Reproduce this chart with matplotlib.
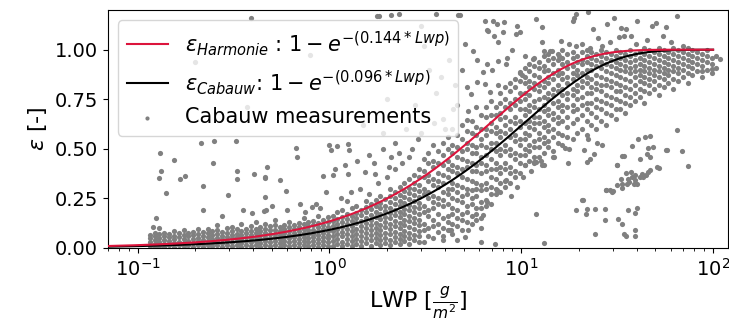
import numpy as np
import matplotlib
matplotlib.use('Agg')
import matplotlib.pyplot as plt

# fit coefficients from the legend: eps = 1 - exp(-k * LWP)
k_harmonie = 0.144
k_cabauw = 0.096

cols_low = [
    (0.116, [0.01, 0.03, 0.05, 0.065]),
    (0.123, [0.005, 0.02, 0.04, 0.06, 0.075]),
    (0.130, [0.012, 0.03, 0.052, 0.07, 0.1]),
    (0.138, [0.006, 0.022, 0.042, 0.06, 0.078]),
    (0.146, [0.015, 0.035, 0.053, 0.071]),
    (0.155, [0.004, 0.025, 0.045, 0.063, 0.085]),
    (0.164, [0.014, 0.032, 0.055, 0.074]),
    (0.174, [0.008, 0.027, 0.046, 0.066, 0.09]),
    (0.184, [0.017, 0.036, 0.058, 0.078]),
    (0.195, [0.006, 0.024, 0.044, 0.064, 0.083]),
    (0.206, [0.013, 0.034, 0.052, 0.072, 0.095]),
    (0.219, [0.004, 0.022, 0.041, 0.06, 0.081]),
    (0.232, [0.016, 0.036, 0.056, 0.074, 0.098]),
    (0.245, [0.008, 0.027, 0.047, 0.067, 0.086]),
    (0.260, [0.014, 0.033, 0.052, 0.072, 0.093, 0.115]),
    (0.275, [0.005, 0.024, 0.043, 0.062, 0.082]),
    (0.292, [0.017, 0.037, 0.057, 0.077, 0.1]),
    (0.309, [0.009, 0.028, 0.048, 0.068, 0.088, 0.108]),
    (0.328, [0.013, 0.033, 0.053, 0.073, 0.094]),
    (0.347, [0.006, 0.025, 0.044, 0.064, 0.084, 0.12]),
    (0.368, [0.016, 0.036, 0.056, 0.076, 0.098]),
    (0.389, [0.008, 0.028, 0.048, 0.068, 0.088, 0.11]),
    (0.412, [0.014, 0.034, 0.054, 0.074, 0.094, 0.13]),
    (0.437, [0.005, 0.025, 0.045, 0.065, 0.085, 0.106]),
    (0.463, [0.017, 0.037, 0.057, 0.077, 0.097, 0.12]),
    (0.490, [0.009, 0.029, 0.049, 0.069, 0.089, 0.11]),
    (0.519, [0.013, 0.033, 0.053, 0.073, 0.093, 0.115, 0.14]),
    (0.550, [0.006, 0.026, 0.046, 0.066, 0.086, 0.106]),
    (0.583, [0.016, 0.036, 0.056, 0.076, 0.096, 0.118]),
    (0.617, [0.008, 0.028, 0.048, 0.068, 0.088, 0.108, 0.13]),
    (0.654, [0.014, 0.034, 0.054, 0.074, 0.094, 0.116]),
    (0.693, [0.005, 0.025, 0.045, 0.065, 0.085, 0.105, 0.128]),
    (0.734, [0.017, 0.037, 0.057, 0.077, 0.097, 0.12, 0.15]),
    (0.777, [0.009, 0.029, 0.049, 0.069, 0.089, 0.11, 0.13]),
    (0.823, [0.013, 0.033, 0.053, 0.073, 0.093, 0.115, 0.138]),
    (0.872, [0.006, 0.026, 0.046, 0.066, 0.086, 0.106, 0.128, 0.16]),
    (0.924, [0.016, 0.036, 0.056, 0.076, 0.096, 0.118, 0.14]),
    (0.979, [0.008, 0.028, 0.048, 0.068, 0.088, 0.108, 0.13, 0.155]),
    (1.04, [0.01, 0.035, 0.06, 0.085, 0.11, 0.135, 0.16]),
    (1.10, [0.02, 0.045, 0.07, 0.095, 0.12, 0.145, 0.18]),
    (1.16, [0.008, 0.032, 0.058, 0.082, 0.108, 0.132, 0.158, 0.19]),
    (1.23, [0.02, 0.045, 0.07, 0.095, 0.12, 0.148, 0.172]),
    (1.31, [0.01, 0.035, 0.06, 0.085, 0.11, 0.136, 0.16, 0.2]),
    (1.38, [0.022, 0.047, 0.072, 0.098, 0.124, 0.15, 0.178, 0.21]),
    (1.46, [0.012, 0.036, 0.062, 0.088, 0.112, 0.138, 0.165, 0.19]),
    (1.55, [0.025, 0.05, 0.075, 0.1, 0.126, 0.152, 0.18, 0.205, 0.235]),
    (1.64, [0.01, 0.038, 0.064, 0.09, 0.115, 0.142, 0.168, 0.195, 0.22]),
    (1.74, [0.024, 0.05, 0.076, 0.102, 0.128, 0.155, 0.182, 0.21, 0.24]),
    (1.84, [0.014, 0.04, 0.066, 0.092, 0.118, 0.145, 0.172, 0.2, 0.228, 0.26]),
    (1.95, [0.026, 0.052, 0.078, 0.105, 0.132, 0.158, 0.186, 0.214, 0.245]),
    (2.07, [0.016, 0.042, 0.07, 0.096, 0.122, 0.15, 0.176, 0.204, 0.232, 0.262, 0.3]),
    (2.19, [0.03, 0.056, 0.082, 0.11, 0.136, 0.164, 0.19, 0.22, 0.25, 0.28]),
    (2.32, [0.018, 0.046, 0.072, 0.1, 0.126, 0.154, 0.182, 0.21, 0.238, 0.268, 0.31]),
    (2.46, [0.034, 0.06, 0.088, 0.115, 0.142, 0.17, 0.198, 0.226, 0.255, 0.285, 0.33]),
    (2.60, [0.022, 0.05, 0.078, 0.106, 0.134, 0.162, 0.19, 0.218, 0.246, 0.276, 0.305, 0.35]),
    (2.76, [0.04, 0.068, 0.096, 0.124, 0.152, 0.18, 0.208, 0.236, 0.265, 0.295, 0.33, 0.37]),
    (2.92, [0.03, 0.058, 0.086, 0.114, 0.142, 0.17, 0.2, 0.228, 0.258, 0.288, 0.32, 0.36, 0.4]),
]

cols_mid = [
    (3.10, [0.03, 0.09, 0.12, 0.18, 0.21, 0.27, 0.3, 0.36, 0.39, 0.45]),
    (3.28, [0.06, 0.1, 0.16, 0.19, 0.25, 0.28, 0.34, 0.37, 0.43, 0.48]),
    (3.47, [0.05, 0.11, 0.14, 0.2, 0.23, 0.26, 0.32, 0.35, 0.41, 0.44, 0.52]),
    (3.68, [0.08, 0.12, 0.17, 0.22, 0.25, 0.31, 0.34, 0.38, 0.43, 0.49]),
    (3.90, [0.06, 0.1, 0.15, 0.21, 0.24, 0.28, 0.33, 0.37, 0.42, 0.47, 0.53]),
    (4.13, [0.09, 0.13, 0.16, 0.22, 0.27, 0.3, 0.36, 0.4, 0.44, 0.5, 0.56]),
    (4.37, [0.07, 0.12, 0.17, 0.2, 0.25, 0.3, 0.33, 0.39, 0.42, 0.48, 0.52, 0.6]),
    (4.63, [0.11, 0.15, 0.19, 0.24, 0.28, 0.32, 0.38, 0.41, 0.46, 0.51, 0.57]),
    (4.91, [0.09, 0.14, 0.17, 0.23, 0.26, 0.31, 0.36, 0.4, 0.45, 0.49, 0.55, 0.62]),
    (5.20, [0.13, 0.18, 0.21, 0.27, 0.3, 0.35, 0.41, 0.44, 0.5, 0.53, 0.59]),
    (5.51, [0.12, 0.16, 0.22, 0.25, 0.29, 0.34, 0.39, 0.43, 0.48, 0.52, 0.58, 0.64]),
    (5.83, [0.17, 0.2, 0.26, 0.3, 0.33, 0.39, 0.42, 0.48, 0.51, 0.57, 0.61]),
    (6.18, [0.15, 0.2, 0.23, 0.29, 0.32, 0.38, 0.43, 0.46, 0.52, 0.55, 0.6, 0.67]),
    (6.55, [0.21, 0.24, 0.3, 0.33, 0.39, 0.42, 0.47, 0.51, 0.57, 0.6, 0.66, 0.71]),
    (6.93, [0.22, 0.27, 0.31, 0.36, 0.4, 0.45, 0.5, 0.53, 0.59, 0.63, 0.67, 0.74]),
    (7.35, [0.27, 0.3, 0.35, 0.4, 0.43, 0.49, 0.53, 0.58, 0.61, 0.67, 0.71]),
    (7.78, [0.28, 0.33, 0.38, 0.41, 0.47, 0.5, 0.56, 0.59, 0.65, 0.68, 0.73, 0.78]),
    (8.24, [0.31, 0.34, 0.4, 0.43, 0.49, 0.52, 0.58, 0.62, 0.66, 0.71, 0.75, 0.81]),
    (8.73, [0.33, 0.38, 0.41, 0.47, 0.5, 0.56, 0.6, 0.64, 0.7, 0.73, 0.79, 0.83]),
    (9.25, [0.36, 0.39, 0.45, 0.48, 0.54, 0.57, 0.63, 0.66, 0.72, 0.75, 0.81, 0.85]),
    (9.80, [0.38, 0.43, 0.47, 0.52, 0.55, 0.61, 0.64, 0.7, 0.74, 0.78, 0.84, 0.88]),
]

cols_high = [
    (10.4, [0.42, 0.47, 0.5, 0.55, 0.58, 0.63, 0.67, 0.7, 0.75, 0.78, 0.83, 0.86, 0.91]),
    (11.0, [0.44, 0.49, 0.52, 0.57, 0.61, 0.64, 0.69, 0.72, 0.77, 0.81, 0.84, 0.89, 0.93]),
    (11.6, [0.43, 0.46, 0.51, 0.54, 0.6, 0.63, 0.66, 0.71, 0.74, 0.8, 0.83, 0.87, 0.92, 0.96]),
    (12.3, [0.46, 0.51, 0.55, 0.58, 0.63, 0.66, 0.7, 0.75, 0.79, 0.82, 0.86, 0.91, 0.94]),
    (13.1, [0.48, 0.53, 0.56, 0.61, 0.64, 0.69, 0.72, 0.76, 0.81, 0.84, 0.89, 0.92, 0.97]),
    (13.8, [0.51, 0.54, 0.59, 0.62, 0.67, 0.7, 0.75, 0.78, 0.83, 0.86, 0.9, 0.95, 0.98]),
    (14.7, [0.49, 0.56, 0.6, 0.65, 0.68, 0.73, 0.77, 0.8, 0.85, 0.88, 0.93, 0.96]),
    (15.5, [0.53, 0.58, 0.63, 0.66, 0.71, 0.74, 0.79, 0.82, 0.87, 0.9, 0.95, 0.98]),
    (16.4, [0.52, 0.57, 0.64, 0.69, 0.72, 0.77, 0.8, 0.85, 0.88, 0.93, 0.96, 1.0]),
    (17.4, [0.56, 0.61, 0.66, 0.71, 0.75, 0.78, 0.83, 0.86, 0.91, 0.94, 0.98]),
    (18.5, [0.55, 0.63, 0.69, 0.72, 0.77, 0.8, 0.85, 0.88, 0.92, 0.96, 0.99]),
    (19.6, [0.58, 0.65, 0.7, 0.75, 0.79, 0.82, 0.87, 0.9, 0.94, 0.97]),
    (20.7, [0.6, 0.67, 0.72, 0.76, 0.81, 0.84, 0.88, 0.93, 0.95, 0.99]),
    (21.9, [0.57, 0.64, 0.7, 0.73, 0.78, 0.83, 0.86, 0.9, 0.94, 0.97, 1.0]),
    (23.2, [0.62, 0.68, 0.73, 0.78, 0.81, 0.85, 0.9, 0.93, 0.96, 0.99]),
    (24.6, [0.6, 0.66, 0.71, 0.75, 0.8, 0.83, 0.87, 0.92, 0.95, 0.98]),
    (26.1, [0.64, 0.7, 0.74, 0.79, 0.82, 0.86, 0.91, 0.94, 0.97, 1.0]),
    (27.6, [0.62, 0.68, 0.73, 0.77, 0.82, 0.85, 0.89, 0.93, 0.96, 0.99]),
    (29.3, [0.67, 0.72, 0.76, 0.81, 0.84, 0.88, 0.92, 0.95, 0.98]),
    (31.0, [0.65, 0.7, 0.75, 0.79, 0.83, 0.87, 0.91, 0.94, 0.97, 1.0]),
    (32.8, [0.7, 0.74, 0.79, 0.82, 0.86, 0.9, 0.93, 0.96, 0.99]),
    (34.8, [0.68, 0.73, 0.77, 0.81, 0.85, 0.89, 0.92, 0.95, 0.98]),
    (36.9, [0.72, 0.76, 0.8, 0.84, 0.88, 0.91, 0.94, 0.97, 1.0]),
    (39.0, [0.74, 0.78, 0.82, 0.86, 0.89, 0.92, 0.95, 0.98]),
    (41.4, [0.76, 0.8, 0.84, 0.87, 0.9, 0.93, 0.96, 0.99]),
    (43.8, [0.73, 0.79, 0.83, 0.86, 0.89, 0.92, 0.95, 0.98, 1.01]),
    (46.4, [0.78, 0.82, 0.85, 0.88, 0.91, 0.94, 0.97, 1.0]),
    (49.2, [0.8, 0.84, 0.87, 0.9, 0.93, 0.96, 0.99]),
    (52.1, [0.77, 0.82, 0.86, 0.89, 0.92, 0.95, 0.98, 1.01]),
    (55.2, [0.81, 0.85, 0.88, 0.91, 0.94, 0.97, 1.0]),
    (58.5, [0.83, 0.87, 0.9, 0.93, 0.96, 0.99]),
    (61.9, [0.8, 0.85, 0.89, 0.92, 0.95, 0.98, 1.01]),
    (65.6, [0.84, 0.88, 0.91, 0.94, 0.97, 1.0]),
    (69.5, [0.86, 0.9, 0.93, 0.96, 0.99]),
    (73.6, [0.83, 0.88, 0.92, 0.95, 0.98, 1.01]),
    (78.0, [0.87, 0.91, 0.94, 0.97, 1.0]),
    (82.6, [0.89, 0.93, 0.96, 0.99]),
    (87.5, [0.86, 0.92, 0.95, 0.98]),
    (92.7, [0.9, 0.94, 0.97, 1.0]),
    (98.2, [0.88, 0.93, 0.96]),
    (104.0, [0.91, 0.97]),
]

# scattered single measurements away from the main cloud (LWP, eps)
pts_left = [
    (0.131, 0.48), (0.154, 0.446), (0.133, 0.39), (0.129, 0.355), (0.141, 0.275),
    (0.167, 0.35), (0.177, 0.363), (0.213, 0.528), (0.25, 0.541), (0.325, 0.541),
    (0.246, 0.427), (0.22, 0.311), (0.295, 0.268), (0.33, 0.387), (0.33, 0.35),
    (0.402, 0.372), (0.462, 0.358), (0.46, 0.255), (0.465, 0.19), (0.125, 0.152),
    (0.121, 0.107), (0.218, 0.19), (0.274, 0.16), (0.355, 0.19), (0.397, 0.178),
    (0.457, 0.186), (0.39, 1.16), (0.2, 0.94), (0.79, 0.973), (0.37, 0.712),
    (0.67, 0.504), (0.675, 0.459), (1.0, 0.52), (1.02, 0.496), (1.1, 0.516),
    (1.25, 0.526), (1.26, 0.492), (0.475, 0.407), (0.46, 0.353), (0.553, 0.342),
    (0.595, 0.286), (0.70, 0.224), (0.5, 0.214), (0.93, 0.363), (1.04, 0.367),
    (1.07, 0.396), (1.25, 0.375), (1.53, 0.382), (1.72, 0.373), (0.96, 0.283),
    (0.89, 0.203), (0.81, 0.208), (1.24, 0.238), (0.6, 0.19), (0.75, 0.18),
    (0.85, 0.22), (1.15, 0.25), (1.3, 0.28), (1.45, 0.3), (1.6, 0.27),
    (1.8, 0.33), (2.0, 0.36), (2.2, 0.4), (2.4, 0.43), (2.6, 0.46),
    (1.4, 0.44), (1.6, 0.47), (1.9, 0.5), (2.1, 0.46), (1.2, 0.42),
    (2.7, 0.5), (2.9, 0.55), (1.7, 0.43), (2.3, 0.48), (2.05, 0.41),
    (2.5, 0.6), (2.8, 0.72), (3.0, 0.58), (3.3, 0.9), (3.6, 0.78),
    (3.9, 0.65), (4.2, 0.95), (4.4, 0.7), (2.6, 0.85), (3.1, 1.02),
    (4.0, 0.6), (3.5, 0.63), (2.2, 0.53), (1.9, 0.58), (2.0, 0.75),
    (1.5, 0.62), (1.82, 1.17), (2.3, 1.18), (3.6, 1.18), (3.0, 1.12),
    (4.7, 1.176), (2.1, 1.176), (1.78, 1.17),
]

pts_mid = [
    (4.8, 1.176), (6.5, 1.146), (7.5, 1.13), (8.1, 1.14), (6.7, 1.095),
    (7.2, 1.07), (7.6, 1.037), (9.4, 1.08), (9.8, 1.09), (5.1, 1.03),
    (5.6, 0.995), (5.9, 0.948), (6.6, 0.928), (7.6, 0.945), (8.3, 0.928),
    (8.4, 0.96), (10.4, 0.97), (11.5, 0.953), (12.9, 1.04), (14.5, 0.995),
    (6.3, 0.887), (5.9, 0.836), (6.5, 0.828), (6.9, 0.786), (7.6, 0.82),
    (5.2, 0.81), (5.5, 0.777), (5.3, 0.693), (5.8, 0.71), (5.2, 0.643),
    (9.8, 0.886), (10.1, 0.87), (6.6, 1.1), (7.1, 1.146), (8.0, 1.088),
    (9.5, 1.12), (11.9, 1.154), (12.9, 1.112), (13.2, 0.995), (4.6, 0.72),
    (4.9, 0.9), (8.9, 1.0), (4.5, 0.82), (3.8, 0.86), (7.0, 0.9),
    (11.9, 0.171), (13.1, 0.024), (7.3, 0.019), (6.2, 0.032), (10.5, 0.417),
    (11.9, 0.434), (13.1, 0.417), (14.9, 0.459), (8.3, 0.342), (7.5, 0.291),
    (6.6, 0.233), (6.3, 0.166), (5.8, 0.141), (4.3, 0.09), (5.3, 0.09),
    (3.9, 0.04), (4.65, 0.04), (5.1, 0.057), (6.2, 0.099), (4.2, 0.09),
    (8.8, 0.26), (9.5, 0.31), (10.2, 0.36), (11.2, 0.39), (12.6, 0.44),
]

pts_right = [
    (18.9, 1.162), (22.3, 1.19), (27.9, 1.13), (30.4, 1.16), (33.0, 1.11),
    (35.0, 1.104), (37.2, 1.07), (40.2, 1.146), (48.3, 1.12), (50.4, 1.137),
    (57.0, 1.113), (64.5, 1.17), (54.7, 1.07), (39.5, 1.03), (32.4, 1.064),
    (26.3, 1.02), (19.2, 1.02), (20.8, 1.03), (17.8, 1.03), (22.9, 1.01),
    (34.3, 1.07), (14.1, 0.995), (15.8, 0.97), (109.0, 0.953), (99.0, 0.903),
    (88.0, 0.894), (16.1, 1.045), (18.5, 1.146), (19.2, 1.18), (23.6, 1.104),
    (45.0, 1.05), (60.0, 1.04), (70.0, 1.02), (25.0, 1.06), (29.0, 1.04),
    (14.6, 0.459), (17.0, 0.504), (17.8, 0.5), (17.6, 0.43), (21.2, 0.492),
    (22.3, 0.551), (24.9, 0.529), (26.3, 0.518), (22.9, 0.451), (23.9, 0.472),
    (22.0, 0.434), (31.4, 0.42), (34.3, 0.462), (37.8, 0.514), (40.7, 0.551),
    (44.2, 0.56), (46.8, 0.565), (46.0, 0.506), (48.7, 0.509), (46.8, 0.459),
    (45.4, 0.476), (41.6, 0.451), (52.0, 0.405), (57.6, 0.492), (68.9, 0.489),
    (74.0, 0.414), (65.0, 0.596), (51.0, 0.409), (56.6, 0.492), (12.9, 0.417),
    (11.7, 0.434), (31.6, 0.417), (33.5, 0.462), (27.7, 0.291), (29.9, 0.286),
    (35.0, 0.378), (37.2, 0.383), (37.8, 0.358), (39.4, 0.342), (41.6, 0.358),
    (43.3, 0.358), (46.0, 0.383), (46.9, 0.395), (44.9, 0.367), (38.6, 0.325),
    (40.2, 0.325), (36.5, 0.333), (35.7, 0.325), (33.0, 0.35), (33.4, 0.325),
    (31.6, 0.317), (33.4, 0.305), (29.0, 0.291), (29.6, 0.283), (27.5, 0.291),
    (39.4, 0.367), (42.5, 0.372), (36.0, 0.35),
    (21.0, 0.241), (19.2, 0.191), (22.0, 0.196), (21.8, 0.171), (24.2, 0.196),
    (27.4, 0.196), (27.4, 0.141), (31.8, 0.146), (33.6, 0.119), (35.9, 0.191),
    (39.9, 0.201), (39.4, 0.178), (24.2, 0.069), (34.3, 0.069), (35.2, 0.06),
    (39.1, 0.06), (39.4, 0.09), (20.8, 0.241),
]

lwp = [x for x, ys in cols_low + cols_mid + cols_high for _ in ys]
eps = [y for _, ys in cols_low + cols_mid + cols_high for y in ys]
for x, y in pts_left + pts_mid + pts_right:
    lwp.append(x)
    eps.append(y)

xfit = np.logspace(np.log10(0.07), 2, 400)

fig = plt.figure(figsize=(7.29, 3.34), dpi=100)
ax = fig.add_axes([0.148, 0.2575, 0.851, 0.7125])

sc = ax.scatter(lwp, eps, s=14, color='grey', linewidths=0, zorder=1,
                label='Cabauw measurements')
l1, = ax.plot(xfit, 1 - np.exp(-k_harmonie * xfit), color='crimson', lw=1.5, zorder=3,
              label=r'$\epsilon_{Harmonie}$ : $1-e^{-(0.144*Lwp)}$')
l2, = ax.plot(xfit, 1 - np.exp(-k_cabauw * xfit), color='black', lw=1.5, zorder=2,
              label=r'$\epsilon_{Cabauw}$: $1-e^{-(0.096*Lwp)}$')

ax.set_xscale('log')
ax.set_xlim(0.07, 120)
ax.set_ylim(0, 1.2)
ax.set_yticks([0, 0.25, 0.5, 0.75, 1.0])
ax.set_yticklabels(['0.00', '0.25', '0.50', '0.75', '1.00'])
ax.tick_params(labelsize=14)
ax.set_xlabel(r'LWP [$\frac{g}{m^2}$]', fontsize=16)
ax.set_ylabel(r'$\epsilon$ [-]', fontsize=16)
ax.legend(handles=[l1, l2, sc], loc='upper left', fontsize=15, markerscale=0.8)

fig.savefig('out.png', dpi=100)
